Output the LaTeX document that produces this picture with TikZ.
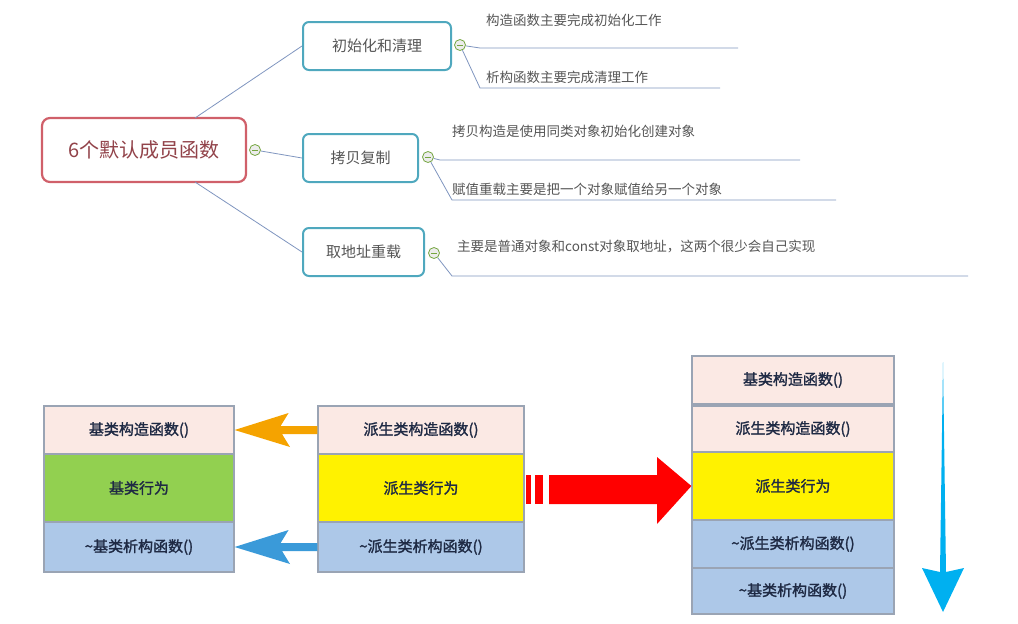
\documentclass[tikz,border=0pt]{standalone}
\usepackage{fontspec}
\newfontfamily\cjk{Noto Sans CJK SC}
\newfontfamily\cjkb[FakeBold=1.6]{Noto Sans CJK SC}
\definecolor{rootc}{HTML}{D0606A}
\definecolor{teal}{HTML}{4FA8BE}
\definecolor{lnc}{HTML}{7F95BF}
\definecolor{txt}{HTML}{555555}
\definecolor{pinkc}{HTML}{FBE9E4}
\definecolor{greenc}{HTML}{92D050}
\definecolor{bluec}{HTML}{ADC8E8}
\definecolor{edgec}{HTML}{9AA4B4}
\definecolor{dark}{HTML}{1F2A44}
\definecolor{orangec}{HTML}{F5A300}
\definecolor{bluearr}{HTML}{3A9AD9}
\definecolor{skyc}{HTML}{00B0F0}
\begin{document}
\begin{tikzpicture}[x=1pt,y=-1pt,
  root/.style={draw=rootc,line width=2.2pt,rounded corners=8pt,fill=white,font=\cjk\fontsize{20}{24}\selectfont,text=rootc!70!black},
  child/.style={draw=teal,line width=2pt,rounded corners=6pt,fill=white,font=\cjk\fontsize{15}{18}\selectfont,text=txt},
  leaf/.style={anchor=south west,font=\cjk\fontsize{13.5}{16}\selectfont,text=txt,inner sep=1pt},
  conn/.style={draw=lnc,line width=0.8pt},
  minus/.style={circle,draw=greenc!80!black,fill=gray!15,minimum size=11pt,inner sep=0pt,line width=0.8pt,
    path picture={\draw[line width=0.8pt] ([xshift=-3pt]path picture bounding box.center)--([xshift=3pt]path picture bounding box.center);}},
  cell/.style={draw=edgec,line width=1.2pt,font=\cjkb\fontsize{15}{18}\selectfont,text=dark,inner sep=0pt}]
\useasboundingbox (0,0) rectangle (1018,624);
% mind map
\node[root,minimum width=204pt,minimum height=64pt] (r) at (144,150) {6个默认成员函数};
\node[child,minimum width=148pt,minimum height=48pt] (c1) at (377,46) {初始化和清理};
\node[child,minimum width=115pt,minimum height=48pt] (c2) at (360.5,158) {拷贝复制};
\node[child,minimum width=121pt,minimum height=48pt] (c3) at (363.5,252) {取地址重载};
\coordinate (r1) at (195,118); \coordinate (r3) at (195,182);
\draw[conn] (r1) -- (c1.west);
\draw[conn] (r3) -- (c3.west);
\node[minus] (m0) at (255,150) {};
\node[minus] (m1) at (460,45) {};
\node[minus] (m2) at (428,157) {};
\node[minus] (m3) at (434,253) {};
\draw[conn] (m0) -- (c2.west);
% leaves
\coordinate (a1) at (480,48); \coordinate (a1e) at (738,48);
\coordinate (a2) at (480,88); \coordinate (a2e) at (720,88);
\coordinate (b1) at (440,160); \coordinate (b1e) at (800,160);
\coordinate (b2) at (452,200); \coordinate (b2e) at (836,200);
\coordinate (d1) at (452,276); \coordinate (d1e) at (968,276);
\draw[conn] (m1) -- (a1) -- (a1e);
\draw[conn] (m1) -- (a2) -- (a2e);
\draw[conn] (m2) -- (b1) -- (b1e);
\draw[conn] (m2) -- (b2) -- (b2e);
\draw[conn] (m3) -- (d1) -- (d1e);
\node[leaf] (t1) at (485,28) {构造函数主要完成初始化工作};
\node[leaf] (t2) at (485,85) {析构函数主要完成清理工作};
\node[leaf] (t3) at (451,139) {拷贝构造是使用同类对象初始化创建对象};
\node[leaf] (t4) at (451,197) {赋值重载主要是把一个对象赋值给另一个对象};
\node[leaf] (t5) at (456,254) {主要是普通对象和const对象取地址，这两个很少会自己实现};
% left stack
\node[cell,fill=pinkc,minimum width=190pt,minimum height=48pt] (l1) at (139,430) {基类构造函数()};
\node[cell,fill=greenc,minimum width=190pt,minimum height=68pt] (l2) at (139,488) {基类行为};
\node[cell,fill=bluec,minimum width=190pt,minimum height=50pt] (l3) at (139,547) {\textasciitilde 基类析构函数()};
% middle stack
\node[cell,fill=pinkc,minimum width=206pt,minimum height=48pt] (n1) at (421,430) {派生类构造函数()};
\node[cell,fill=yellow,minimum width=206pt,minimum height=68pt] (n2) at (421,488) {派生类行为};
\node[cell,fill=bluec,minimum width=206pt,minimum height=50pt] (n3) at (421,547) {\textasciitilde 派生类析构函数()};
% right stack
\node[cell,fill=pinkc,minimum width=202pt,minimum height=48pt] (s1) at (793,380) {基类构造函数()};
\node[cell,fill=pinkc,minimum width=202pt,minimum height=46pt] (s2) at (793,429) {派生类构造函数()};
\node[cell,fill=yellow,minimum width=202pt,minimum height=68pt] (s3) at (793,486) {派生类行为};
\node[cell,fill=bluec,minimum width=202pt,minimum height=48pt] (s4) at (793,544) {\textasciitilde 派生类析构函数()};
\node[cell,fill=bluec,minimum width=202pt,minimum height=46pt] (s5) at (793,591) {\textasciitilde 基类析构函数()};
% orange arrow
\fill[orangec] (l1.east) -- ++(54,-17) -- ++(-8,13) -- (n1.west|-0,426) -- (n1.west|-0,434) -- (282,434) -- (290,447) -- cycle;
% blue arrow
\fill[bluearr] (l3.east) -- ++(54,-17) -- ++(-8,13) -- (n3.west|-0,543) -- (n3.west|-0,551) -- (282,551) -- (290,564) -- cycle;
% red arrow
\fill[red] (526,475) rectangle (531,504);
\fill[red] (535,475) rectangle (543,504);
\fill[red] (549,475) -- (657,475) -- (657,457) -- (s3.west) -- (657,524) -- (657,504) -- (549,504) -- cycle;
% down arrow
\coordinate (dtop) at (943,362);
\coordinate (dtip) at (943,612);
\fill[skyc] (dtop) -- (946,572) -- (964,568) -- (dtip) -- (922,568) -- (940,572) -- cycle;
\end{tikzpicture}
\end{document}
